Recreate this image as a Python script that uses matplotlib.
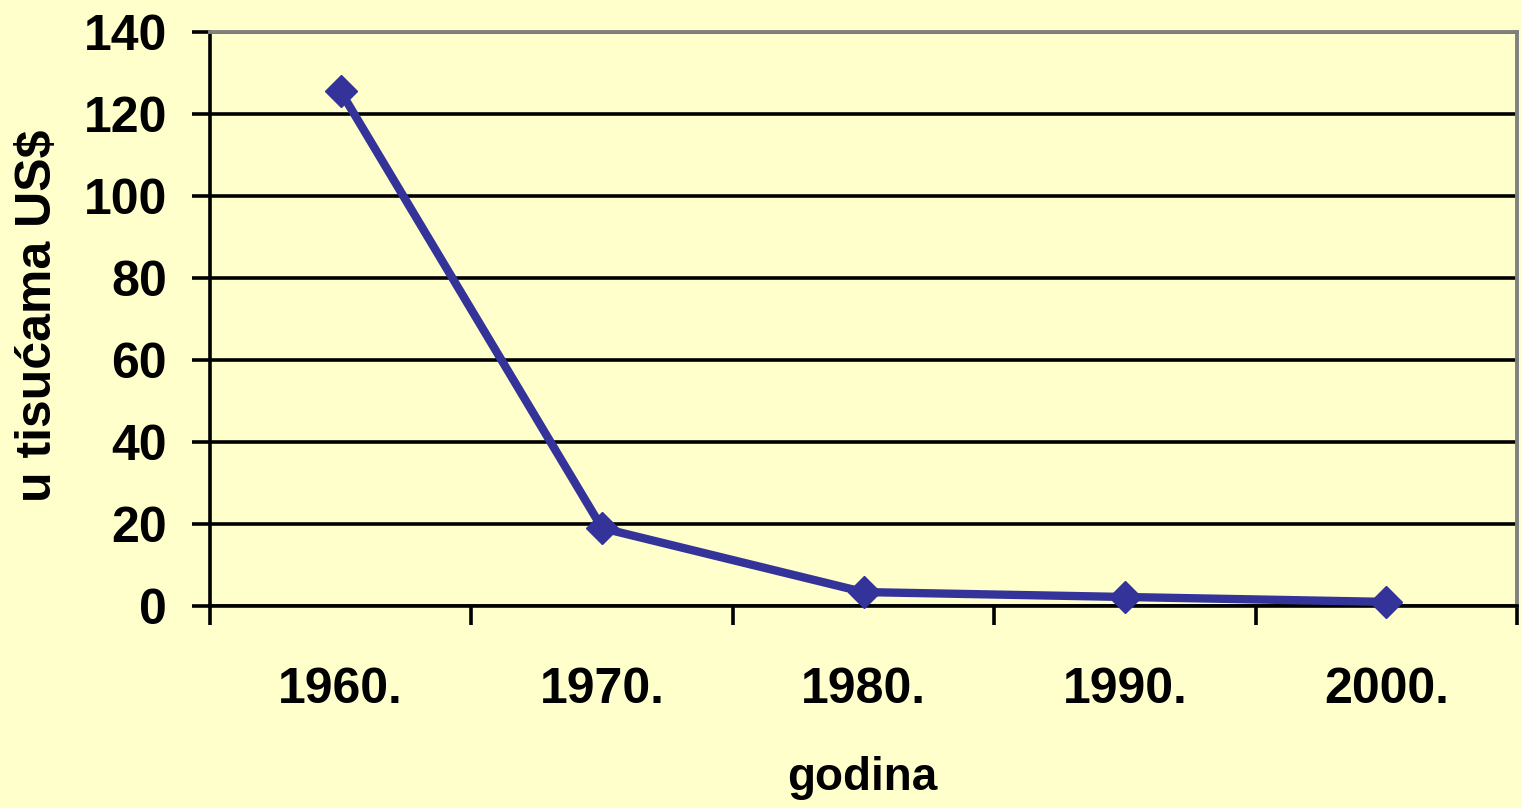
import matplotlib
matplotlib.use("Agg")
import matplotlib.pyplot as plt
from matplotlib.ticker import FixedLocator

years = ["1960.", "1970.", "1980.", "1990.", "2000."]
values = [125.5, 19, 3.4, 2.2, 1.0]
y_ticks = [0, 20, 40, 60, 80, 100, 120, 140]

bg = "#FFFFCC"
line_color = "#333399"
plt.rcParams['font.family'] = ['Liberation Sans', 'DejaVu Sans']

fig = plt.figure(figsize=(15.21, 8.08), dpi=100, facecolor=bg)
ax = fig.add_axes([210/1521, 1-606/808, (1517-210)/1521, (606-32)/808])
ax.set_facecolor(bg)

x = list(range(len(years)))
ax.plot(x, values, color=line_color, linewidth=6, marker='D', markersize=16,
        markerfacecolor=line_color, markeredgecolor=line_color, zorder=5, clip_on=False)

ax.set_xlim(-0.5, len(years) - 0.5)
ax.set_ylim(0, 140)
ax.set_yticks(y_ticks)
ax.set_yticklabels([str(v) for v in y_ticks], fontsize=36, fontweight='bold')
ax.yaxis.grid(True, color='black', linewidth=2.6)
ax.set_axisbelow(True)

ax.set_xticks(x)
ax.set_xticklabels(years, fontsize=36, fontweight='bold')
ax.tick_params(axis='x', which='major', length=0, pad=44)
ax.xaxis.set_minor_locator(FixedLocator([i - 0.5 for i in range(len(years) + 1)]))
ax.tick_params(axis='x', which='minor', length=14, width=2.6, color='black', direction='out')
ax.tick_params(axis='y', which='major', length=13, width=2.6, color='black', direction='out', pad=18)

for s in ['left', 'bottom']:
    ax.spines[s].set_color('black')
    ax.spines[s].set_linewidth(2.6)
for s in ['top', 'right']:
    ax.spines[s].set_color('#808080')
    ax.spines[s].set_linewidth(2.8)

fig.text(862/1521, 1-778/808, "godina", fontsize=33, fontweight='bold', ha='center', va='center')
fig.text(38/1521, 1-316/808, "u tisućama US$", fontsize=36, fontweight='bold', ha='center', va='center', rotation=90)

fig.savefig("out.png", dpi=100, facecolor=bg)
